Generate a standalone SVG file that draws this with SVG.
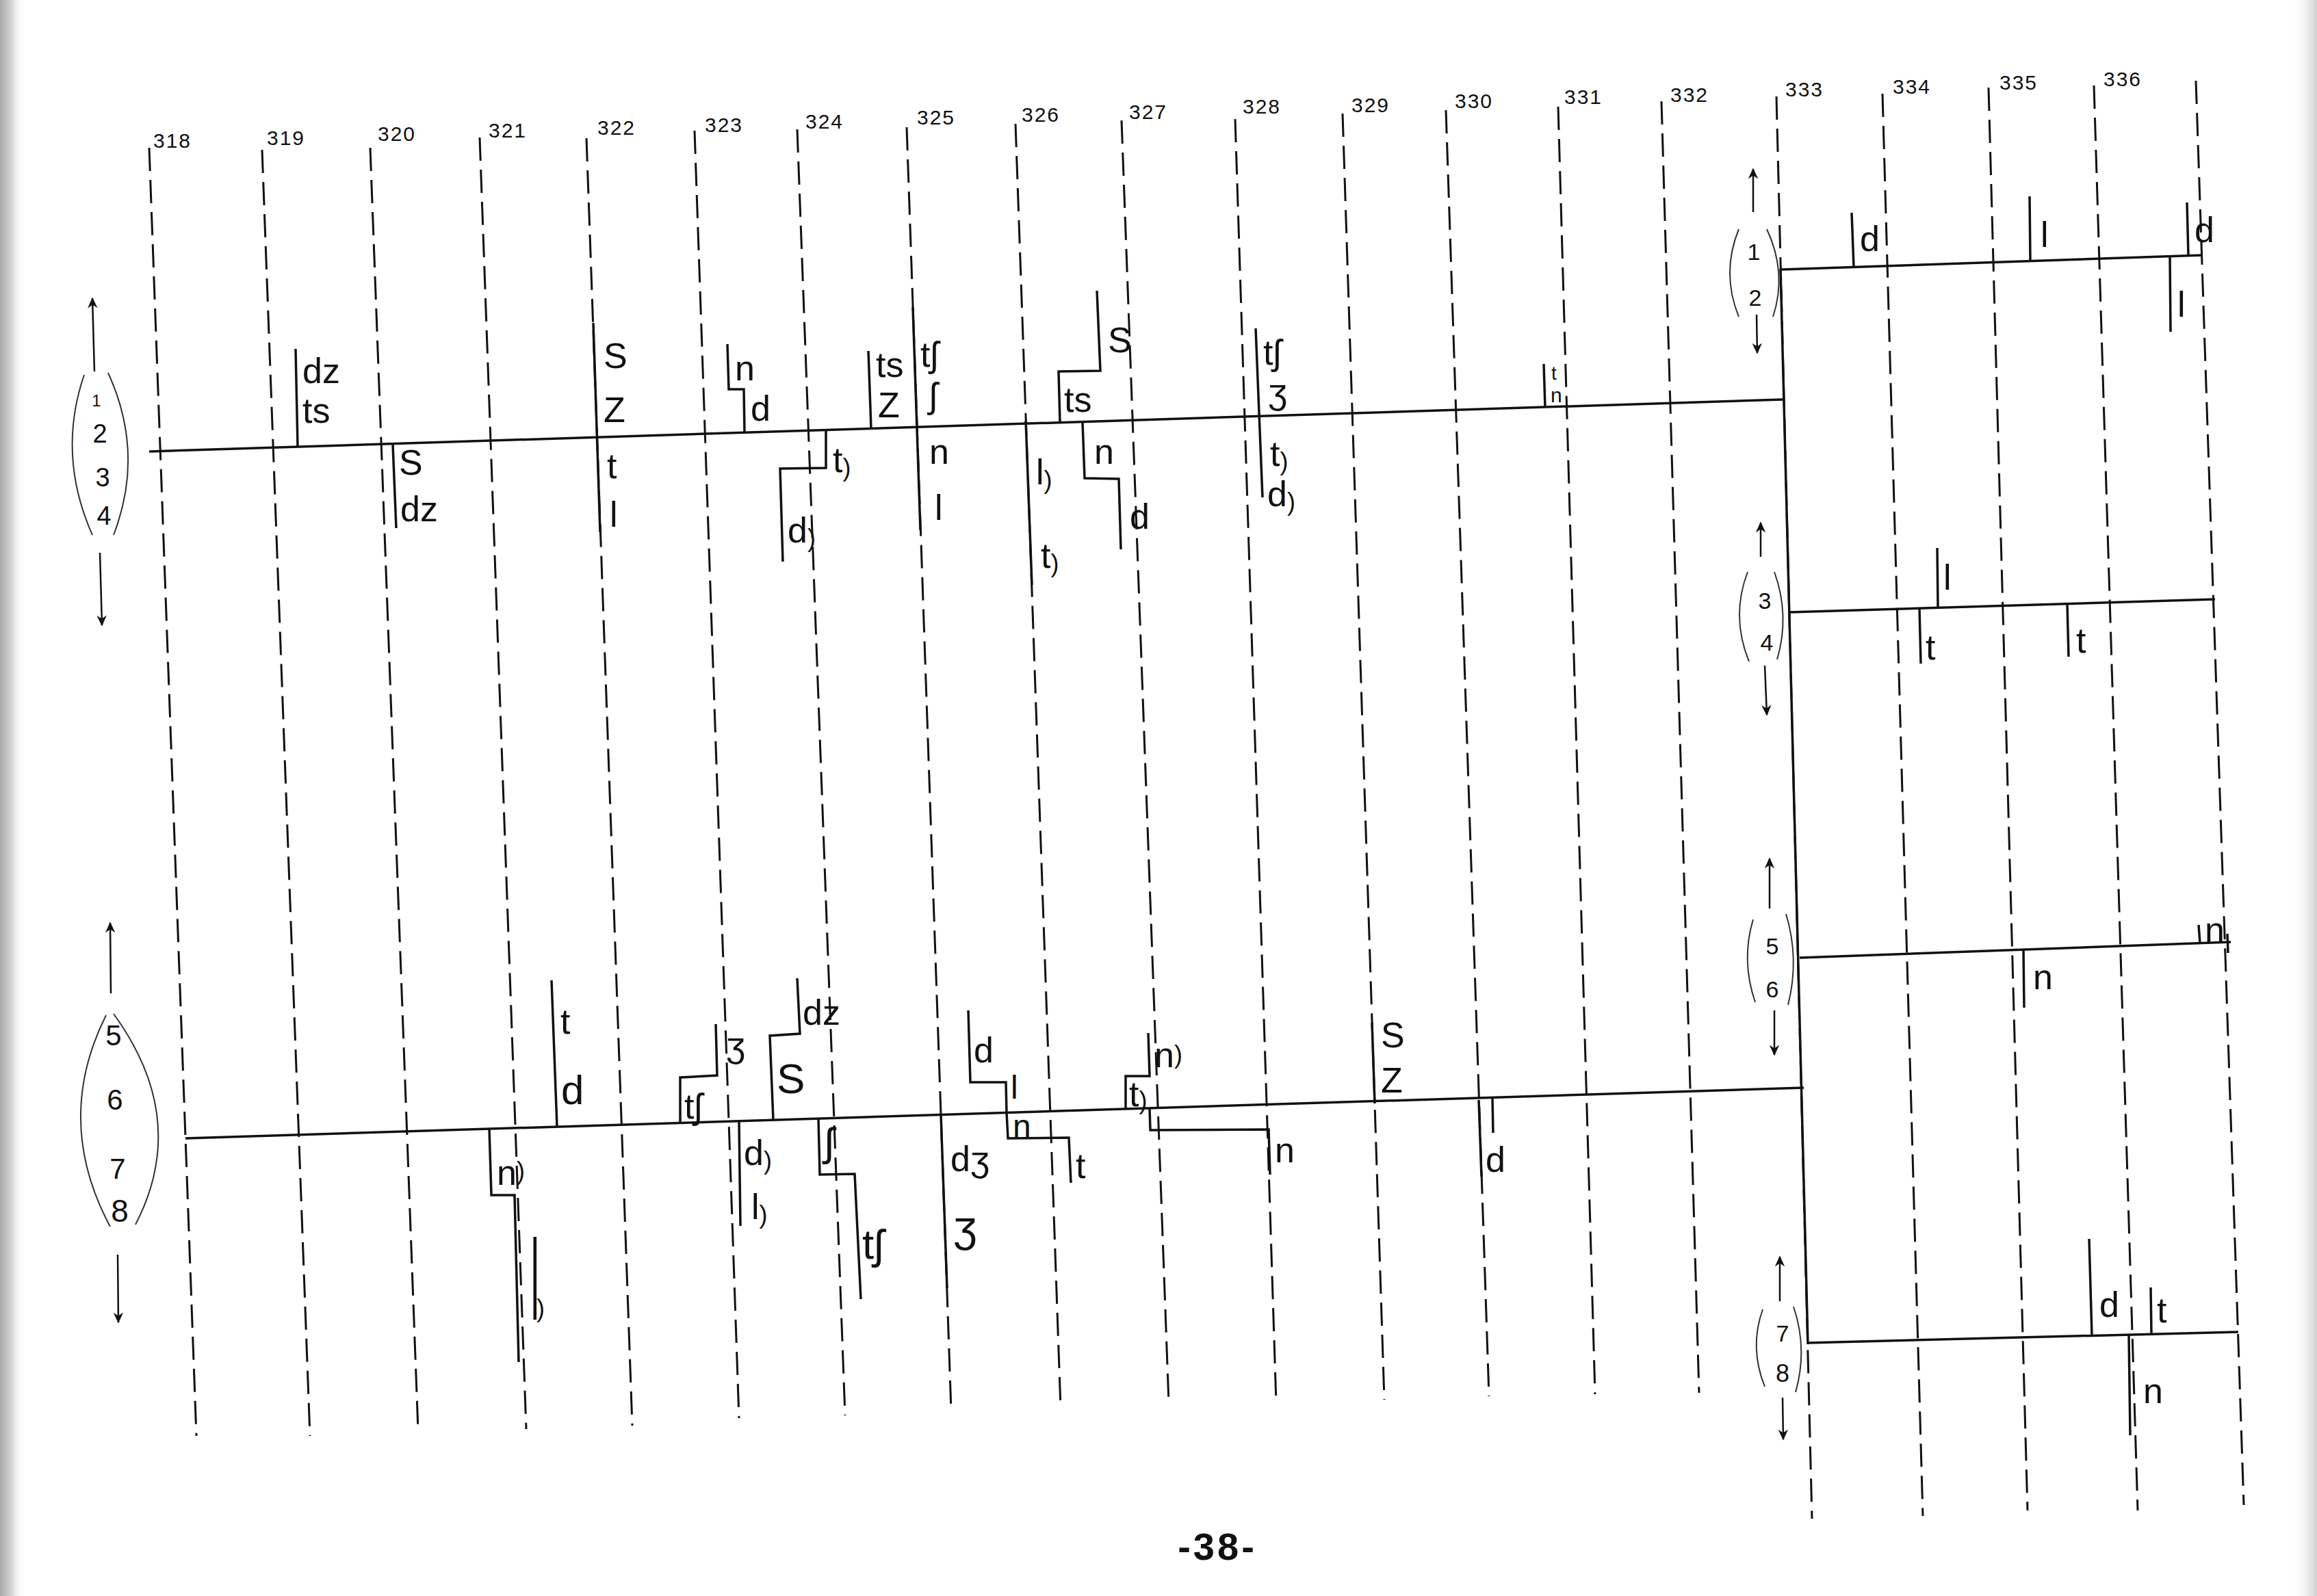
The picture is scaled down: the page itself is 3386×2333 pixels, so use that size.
<svg xmlns="http://www.w3.org/2000/svg" width="3386" height="2333" viewBox="0 0 3386 2333">
<defs>
<marker id="ah" viewBox="0 0 10 10" refX="9" refY="5" markerWidth="20" markerHeight="16" markerUnits="userSpaceOnUse" orient="auto"><path d="M0,0.5 L10,5 L0,9.5 L3,5 z" fill="#111"/></marker>
<linearGradient id="edgeL" x1="0" x2="1" y1="0" y2="0"><stop offset="0" stop-color="#a8a8a8"/><stop offset="0.5" stop-color="#d8d8d8"/><stop offset="1" stop-color="#ffffff" stop-opacity="0"/></linearGradient>
<linearGradient id="edgeR" x1="0" x2="1" y1="0" y2="0"><stop offset="0" stop-color="#ffffff" stop-opacity="0"/><stop offset="1" stop-color="#cfcfcf"/></linearGradient>
</defs>
<style>
.dash{stroke:#111;stroke-width:3;stroke-dasharray:34 13;fill:none}
.ln{stroke:#111;stroke-width:3.5;fill:none;stroke-linejoin:miter}
.thin{stroke:#333;stroke-width:2;fill:none}
.t{font-family:"Liberation Sans","DejaVu Sans",sans-serif;font-size:52px;fill:#111}
.s{font-size:28px}
.hk{font-size:36px}
.num{font-family:"Liberation Sans",sans-serif;font-size:30px;fill:#111;letter-spacing:2px}
.g{font-family:"Liberation Sans",sans-serif;font-size:38px;fill:#111;text-anchor:middle}
.pg{font-family:"Liberation Sans",sans-serif;font-size:56px;font-weight:bold;fill:#111;text-anchor:middle;letter-spacing:4px}
.arr{stroke:#111;stroke-width:2.5;fill:none;marker-end:url(#ah)}
</style>
<rect width="3386" height="2333" fill="#ffffff"/>
<rect x="0" y="0" width="36" height="2333" fill="url(#edgeL)"/>
<rect x="3350" y="0" width="36" height="2333" fill="url(#edgeR)"/>

<g id="column-numbers" class="num">
<text x="224" y="216">318</text><text x="390" y="212">319</text><text x="552" y="206">320</text><text x="714" y="201">321</text>
<text x="873" y="197">322</text><text x="1030" y="193">323</text><text x="1177" y="188">324</text><text x="1340" y="182">325</text>
<text x="1493" y="178">326</text><text x="1650" y="174">327</text><text x="1816" y="166">328</text><text x="1975" y="164">329</text>
<text x="2126" y="158">330</text><text x="2286" y="152">331</text><text x="2441" y="149">332</text><text x="2609" y="141">333</text>
<text x="2766" y="137">334</text><text x="2922" y="131">335</text><text x="3074" y="126">336</text>
</g>

<g id="grid" class="dash">
<line x1="218" y1="216" x2="287" y2="2099"/>
<line x1="383" y1="219" x2="453" y2="2099"/>
<line x1="541" y1="216" x2="611" y2="2091"/>
<line x1="701" y1="201" x2="769" y2="2089"/>
<line x1="857" y1="202" x2="924" y2="2084"/>
<line x1="1015" y1="191" x2="1080" y2="2073"/>
<line x1="1165" y1="189" x2="1235" y2="2069"/>
<line x1="1325" y1="186" x2="1390" y2="2062"/>
<line x1="1484" y1="181" x2="1550" y2="2058"/>
<line x1="1639" y1="176" x2="1708" y2="2051"/>
<line x1="1805" y1="174" x2="1865" y2="2051"/>
<line x1="1962" y1="166" x2="2023" y2="2046"/>
<line x1="2113" y1="161" x2="2176" y2="2041"/>
<line x1="2277" y1="156" x2="2331" y2="2038"/>
<line x1="2428" y1="148" x2="2483" y2="2036"/>
<line x1="2596" y1="141" x2="2648" y2="2220"/>
<line x1="2751" y1="137" x2="2810" y2="2216"/>
<line x1="2906" y1="128" x2="2963" y2="2208"/>
<line x1="3060" y1="125" x2="3124" y2="2208"/>
<line x1="3209" y1="118" x2="3279" y2="2200"/>
</g>

<g id="connectors" class="ln">
<line x1="218" y1="660" x2="2605" y2="584"/>
<line x1="271" y1="1664" x2="2636" y2="1590"/>
<line x1="2602" y1="393" x2="2642" y2="1965"/>
<line x1="2603" y1="394" x2="3219" y2="373"/>
<line x1="2614" y1="895" x2="3237" y2="876"/>
<line x1="2630" y1="1400" x2="3260" y2="1377"/>
<line x1="2641" y1="1963" x2="3271" y2="1947"/>
<line x1="3255" y1="1365" x2="3256" y2="1393"/>
<line x1="867" y1="472" x2="877" y2="778"/>
<line x1="1334" y1="449" x2="1345" y2="775"/>
<line x1="1375" y1="1630" x2="1384" y2="1883"/>
<line x1="1499" y1="615" x2="1508" y2="855"/>
<line x1="2005" y1="1495" x2="2009" y2="1613"/>
<line x1="2161" y1="1608" x2="2165" y2="1720"/>
<polyline points="432,510 435,653"/>
<polyline points="574,649 579,772"/>
<polyline points="1063,503 1065,569 1087,569 1088,632"/>
<polyline points="1207,629 1207,684 1140,685 1144,821"/>
<polyline points="1269,513 1273,626"/>
<polyline points="1603,425 1608,542 1547,543 1549,618"/>
<polyline points="1582,617 1585,699 1635,700 1638,803"/>
<polyline points="1835,480 1845,727"/>
<polyline points="2256,532 2258,595"/>
<polyline points="715,1650 718,1747 752,1747 758,1991"/>
<polyline points="806,1433 814,1647"/>
<polyline points="994,1641 994,1575 1048,1572 1046,1497"/>
<polyline points="1080,1639 1082,1792"/>
<polyline points="1130,1637 1125,1514 1169,1511 1165,1430"/>
<polyline points="1196,1635 1198,1717 1249,1716 1258,1899"/>
<polyline points="1415,1477 1418,1582 1470,1582 1471,1626 1473,1664 1562,1663 1565,1729"/>
<polyline points="1645,1621 1645,1573 1680,1573 1678,1510"/>
<polyline points="1680,1620 1681,1652 1854,1651 1856,1717"/>
<polyline points="2181,1605 2182,1656"/>
<polyline points="2706,311 2709,390"/>
<polyline points="2966,287 2967,382"/>
<polyline points="3196,296 3198,374"/>
<polyline points="3171,375 3172,485"/>
<polyline points="2831,801 2832,888"/>
<polyline points="2805,889 2807,970"/>
<polyline points="3021,883 3023,960"/>
<polyline points="2957,1388 2958,1473"/>
<polyline points="3213,1352 3215,1379"/>
<polyline points="3053,1811 3057,1952"/>
<polyline points="3143,1882 3144,1950"/>
<polyline points="3111,1951 3113,2098"/>
</g>

<g id="row-1-4-labels" class="t">
<text x="442" y="560">dz</text><text x="442" y="618">ts</text>
<text x="583" y="694">S</text><text x="585" y="762">dz</text>
<text x="882" y="538">S</text><text x="882" y="617">Z</text><text x="887" y="699">t</text><text x="891" y="770">l</text>
<text x="1074" y="556">n</text><text x="1097" y="615">d</text>
<text x="1217" y="690">t<tspan class="hk" dy="6">)</tspan></text><text x="1151" y="793">d<tspan class="hk" dy="6">)</tspan></text>
<text x="1280" y="551">ts</text><text x="1283" y="610">Z</text>
<text x="1345" y="536">tʃ</text><text x="1358" y="596">ʃ</text><text x="1358" y="678">n</text><text x="1366" y="760">l</text>
<text x="1514" y="708">l<tspan class="hk" dy="6">)</tspan></text><text x="1521" y="830">t<tspan class="hk" dy="6">)</tspan></text>
<text x="1619" y="515">S</text><text x="1555" y="602">ts</text><text x="1599" y="678">n</text><text x="1651" y="773">d</text>
<text x="1846" y="533">tʃ</text><text x="1853" y="590">ʒ</text><text x="1856" y="681">t<tspan class="hk" dy="6">)</tspan></text><text x="1852" y="740">d<tspan class="hk" dy="6">)</tspan></text>
<text x="2267" y="555" class="s">t</text><text x="2266" y="588" style="font-size:30px">n</text>
</g>

<g id="right-labels" class="t">
<text x="2718" y="367">d</text><text x="2982" y="361">l</text><text x="3207" y="354">d</text><text x="3182" y="463">l</text>
<text x="2840" y="862">l</text><text x="2814" y="964">t</text><text x="3034" y="954">t</text>
<text x="2971" y="1446">n</text><text x="3222" y="1377">n</text>
<text x="3068" y="1925">d</text><text x="3152" y="1933">t</text><text x="3132" y="2051">n</text>
</g>

<g id="row-5-8-labels" class="t">
<text x="726" y="1732">n<tspan class="hk" dy="-8">)</tspan></text>
<text transform="translate(776,1929) scale(1,3.2)">l</text><text x="784" y="1925" class="hk">)</text>
<text x="819" y="1511">t</text><text x="820" y="1614" style="font-size:60px">d</text>
<text x="1000" y="1635">tʃ</text><text x="1061" y="1545">ʒ</text>
<text x="1087" y="1703">d<tspan class="hk" dy="6">)</tspan></text><text x="1098" y="1782">l<tspan class="hk" dy="6">)</tspan></text>
<text x="1135" y="1598" style="font-size:62px">S</text><text x="1173" y="1498">dz</text>
<text x="1205" y="1690" style="font-size:60px">ʃ</text><text x="1260" y="1840" style="font-size:62px">tʃ</text>
<text x="1389" y="1712">dʒ</text><text x="1393" y="1815" style="font-size:64px">ʒ</text>
<text x="1423" y="1553">d</text><text x="1477" y="1606" style="font-size:48px">l</text><text x="1480" y="1663" style="font-size:48px">n</text><text x="1572" y="1722">t</text>
<text x="1650" y="1617">t<tspan class="hk" dy="4">)</tspan></text><text x="1687" y="1560">n<tspan class="hk" dy="-6">)</tspan></text>
<text x="1863" y="1699">n</text>
<text x="2018" y="1531">S</text><text x="2018" y="1597">Z</text>
<text x="2171" y="1713">d</text>
</g>

<g id="group-1-4">
<path class="thin" d="M123,548 Q83,665 135,782"/>
<path class="thin" d="M158,545 Q212,663 166,782"/>
<line class="arr" x1="138" y1="543" x2="135" y2="436"/>
<line class="arr" x1="146" y1="808" x2="149" y2="914"/>
<text class="g" x="141" y="594" style="font-size:24px">1</text>
<text class="g" x="146" y="647">2</text>
<text class="g" x="150" y="711">3</text>
<text class="g" x="152" y="767">4</text>
</g>

<g id="group-5-8">
<path class="thin" d="M155,1484 Q78,1638 161,1793"/>
<path class="thin" d="M166,1482 Q278,1636 198,1790"/>
<line class="arr" x1="162" y1="1452" x2="161" y2="1349"/>
<line class="arr" x1="172" y1="1834" x2="173" y2="1933"/>
<text class="g" x="166" y="1528" style="font-size:42px">5</text>
<text class="g" x="168" y="1622" style="font-size:42px">6</text>
<text class="g" x="172" y="1723" style="font-size:42px">7</text>
<text class="g" x="175" y="1786" style="font-size:46px">8</text>
</g>

<g id="group-1-2">
<path class="thin" d="M2541,335 Q2515,399 2541,463"/>
<path class="thin" d="M2582,335 Q2612,399 2591,463"/>
<line class="arr" x1="2562" y1="310" x2="2562" y2="247"/>
<line class="arr" x1="2567" y1="460" x2="2568" y2="516"/>
<text class="g" x="2563" y="380" style="font-size:34px">1</text>
<text class="g" x="2565" y="447" style="font-size:34px">2</text>
</g>

<g id="group-3-4">
<path class="thin" d="M2554,836 Q2529,901 2556,967"/>
<path class="thin" d="M2593,836 Q2616,900 2597,964"/>
<line class="arr" x1="2573" y1="814" x2="2573" y2="764"/>
<line class="arr" x1="2579" y1="973" x2="2582" y2="1045"/>
<text class="g" x="2579" y="890" style="font-size:34px">3</text>
<text class="g" x="2582" y="951" style="font-size:34px">4</text>
</g>

<g id="group-5-6">
<path class="thin" d="M2562,1344 Q2544,1404 2565,1465"/>
<path class="thin" d="M2610,1336 Q2630,1402 2613,1469"/>
<line class="arr" x1="2586" y1="1328" x2="2586" y2="1255"/>
<line class="arr" x1="2593" y1="1477" x2="2593" y2="1542"/>
<text class="g" x="2590" y="1395" style="font-size:34px">5</text>
<text class="g" x="2590" y="1458" style="font-size:34px">6</text>
</g>

<g id="group-7-8">
<path class="thin" d="M2576,1914 Q2556,1970 2579,2027"/>
<path class="thin" d="M2621,1910 Q2642,1972 2624,2035"/>
<line class="arr" x1="2601" y1="1902" x2="2601" y2="1837"/>
<line class="arr" x1="2605" y1="2043" x2="2606" y2="2104"/>
<text class="g" x="2605" y="1961" style="font-size:34px">7</text>
<text class="g" x="2605" y="2020" style="font-size:36px">8</text>
</g>

<g id="page-number">
<text class="pg" x="1779" y="2280">-38-</text>
</g>
</svg>
